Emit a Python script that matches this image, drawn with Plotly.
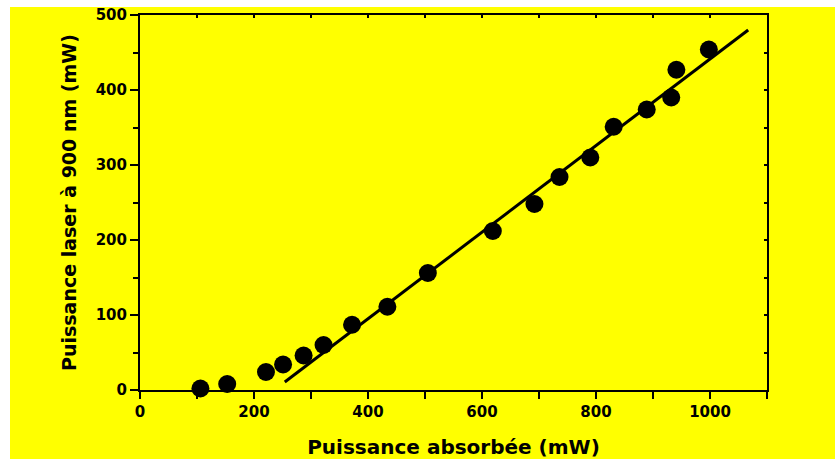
import plotly.graph_objects as go

# Data
absorbed_power = [106, 153, 221, 251, 287, 322, 372, 434, 505, 619, 692, 736, 790, 831, 889, 932, 941, 998]
laser_power = [2, 8, 24, 34, 46, 60, 87, 111, 156, 212, 248, 284, 310, 351, 374, 390, 427, 454]

# Linear fit endpoints
fit_x = [254, 1067]
fit_y = [10.7, 480]

x_title = "Puissance absorbée (mW)"
y_title = "Puissance laser à 900 nm (mW)"

FONT = "DejaVu Sans"
YELLOW = "#FFFF00"

fig = go.Figure()

fig.add_trace(go.Scatter(
    x=fit_x, y=fit_y, mode="lines",
    line=dict(color="black", width=3),
    showlegend=False, hoverinfo="skip", cliponaxis=False,
))
fig.add_trace(go.Scatter(
    x=absorbed_power, y=laser_power, mode="markers",
    marker=dict(color="black", size=18, line=dict(width=0)),
    showlegend=False, cliponaxis=False,
))
# dummy trace for mirrored tick axes
fig.add_trace(go.Scatter(x=[None], y=[None], xaxis="x2", yaxis="y2", showlegend=False))

# plot area in pixels: left 140, right 767, top 15, bottom 390
W, H = 835, 459
L, R, T, B = 140, 767, 15, 390
pw, ph = R - L, B - T

def px(xp):
    return (xp - L) / pw

def py(yp):
    return (B - yp) / ph

fig.update_layout(
    width=W, height=H,
    margin=dict(l=L, r=W - R, t=T, b=H - B, pad=0, autoexpand=False),
    paper_bgcolor=YELLOW,
    plot_bgcolor=YELLOW,
    font=dict(family=FONT, color="black"),
    xaxis=dict(
        range=[0, 1100], dtick=200, tick0=0, automargin=False,
        showgrid=False, zeroline=False,
        showline=True, linecolor="black", linewidth=2, mirror=True,
        ticks="outside", ticklen=7, tickwidth=2, tickcolor="black",
        minor=dict(dtick=100, ticks="outside", ticklen=7, tickwidth=1.5, tickcolor="black", showgrid=False),
        tickfont=dict(family=FONT, size=15, color="black", weight="bold"),
        title=dict(text=x_title, font=dict(family=FONT, size=20, color="black", weight="bold"), standoff=20),
    ),
    yaxis=dict(
        range=[0, 500], dtick=100, tick0=0, automargin=False,
        showgrid=False, zeroline=False,
        showline=True, linecolor="black", linewidth=2, mirror=True,
        ticks="outside", ticklen=8, tickwidth=2, tickcolor="black",
        minor=dict(dtick=50, ticks="outside", ticklen=5, tickwidth=1.5, tickcolor="black", showgrid=False),
        tickfont=dict(family=FONT, size=15, color="black", weight="bold"),
        title=dict(text=y_title, font=dict(family=FONT, size=19, color="black", weight="bold"), standoff=14),
    ),
    xaxis2=dict(
        overlaying="x", side="top", range=[0, 1100], dtick=100, tick0=0, automargin=False,
        showgrid=False, zeroline=False, showline=False,
        ticks="inside", ticklen=3, tickwidth=1.5, tickcolor="black",
        showticklabels=False,
    ),
    yaxis2=dict(
        overlaying="y", side="right", range=[0, 500], dtick=50, tick0=0, automargin=False,
        showgrid=False, zeroline=False, showline=False,
        ticks="inside", ticklen=3, tickwidth=1.5, tickcolor="black",
        showticklabels=False,
    ),
    shapes=[
        # white strips along the top and left edges of the picture
        dict(type="rect", xref="paper", yref="paper", x0=px(0), x1=px(W), y0=py(7), y1=py(0),
             fillcolor="white", line=dict(width=0), layer="below"),
        dict(type="rect", xref="paper", yref="paper", x0=px(0), x1=px(10), y0=py(H), y1=py(0),
             fillcolor="white", line=dict(width=0), layer="below"),
    ],
)

fig.write_html(
    "out.html",
    config={"displayModeBar": False},
    post_script="document.body.style.margin='0';document.body.style.overflow='hidden';",
)
